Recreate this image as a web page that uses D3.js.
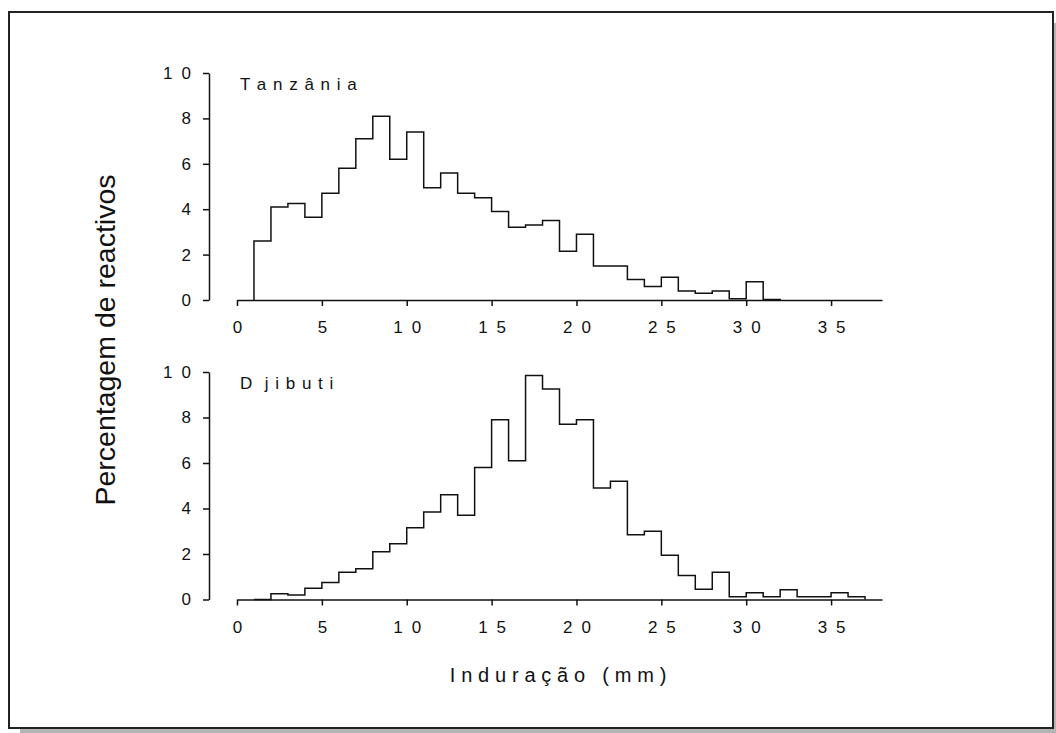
<!DOCTYPE html>
<html>
<head>
<meta charset="utf-8">
<script src="https://cdn.jsdelivr.net/npm/d3@7"></script>
<style>
  body { margin: 0; background: #fff; }
  text { font-family: "Liberation Sans", Arial, sans-serif; fill: #111; }
</style>
</head>
<body>
<div id="chart"></div>
<script>
// histogram bins are 1 mm wide, these are the left edges
var tanzaniaBins = [1,2,3,4,5,6,7,8,9,10,11,12,13,14,15,16,17,18,19,20,21,22,23,24,25,26,27,28,29,30,31];
var tanzaniaPct  = [2.6,4.1,4.25,3.65,4.7,5.8,7.1,8.1,6.2,7.4,4.95,5.6,4.7,4.5,3.9,3.2,3.3,3.5,2.15,2.9,1.5,1.5,0.9,0.6,1.0,0.4,0.3,0.4,0.05,0.8,0.02];

var djiboutiBins = [1,2,3,4,5,6,7,8,9,10,11,12,13,14,15,16,17,18,19,20,21,22,23,24,25,26,27,28,29,30,31,32,33,34,35,36];
var djiboutiPct  = [0,0.25,0.2,0.5,0.75,1.2,1.35,2.1,2.45,3.15,3.85,4.6,3.7,5.8,7.9,6.1,9.85,9.25,7.7,7.9,4.9,5.2,2.85,3.0,1.95,1.05,0.45,1.2,0.12,0.3,0.12,0.43,0.12,0.12,0.3,0.12];

var panelNames = ["T a n z â n i a", "D  j i b u t i"];
var xTicks = [0,5,10,15,20,25,30,35];
var yTicks = [0,2,4,6,8,10];

var width = 1056, height = 733;

var svg = d3.select("#chart")
	.append("svg")
	.attr("width", width)
	.attr("height", height);

// frame + drop shadow
svg.append("rect")
	.attr("x", 20).attr("y", 23)
	.attr("width", 1044).attr("height", 716)
	.attr("fill", "#b4b4b4");
svg.append("rect")
	.attr("x", 9).attr("y", 12)
	.attr("width", 1044).attr("height", 716)
	.attr("fill", "#fff")
	.attr("stroke", "#222")
	.style("stroke-width", "2px");

var x = d3.scaleLinear().domain([0, 38]).range([237, 882]);

var panels = [
	{ top: 73,  bottom: 300,   bins: tanzaniaBins, pct: tanzaniaPct, name: panelNames[0] },
	{ top: 372, bottom: 599.5, bins: djiboutiBins, pct: djiboutiPct, name: panelNames[1] }
];

var tickLS = 9;

panels.forEach(function(p) {
	var y = d3.scaleLinear().domain([0, 10]).range([p.bottom, p.top]);

	// x axis
	var gx = svg.append("g")
		.attr("transform", "translate(0," + p.bottom + ")")
		.call(d3.axisBottom(x).tickValues(xTicks).tickSize(6).tickSizeOuter(0));

	// y axis
	var gy = svg.append("g")
		.attr("transform", "translate(209,0)")
		.call(d3.axisLeft(y).tickValues(yTicks).tickSize(6).tickSizeOuter(0));

	[gx, gy].forEach(function(g) {
		g.attr("font-family", null).attr("font-size", null);
		g.selectAll("path, line").attr("stroke", "#111").style("stroke-width", "1.5px");
		g.selectAll("text")
			.style("font-size", "17px")
			.style("letter-spacing", tickLS + "px");
	});
	gx.selectAll("text").attr("y", 21).attr("dx", tickLS / 2);

	// step outline: start on the baseline, climb, and drop back after last bin
	var pts = [{ x: p.bins[0], y: 0 }];
	p.bins.forEach(function(b, i) { pts.push({ x: b, y: p.pct[i] }); });
	pts.push({ x: p.bins[p.bins.length - 1] + 1, y: 0 });

	var line = d3.line()
		.x(function(d) { return x(d.x); })
		.y(function(d) { return y(d.y); })
		.curve(d3.curveStepAfter);

	svg.append("path")
		.datum(pts)
		.attr("d", line)
		.attr("fill", "none")
		.attr("stroke", "#111")
		.style("stroke-width", "1.5px");

	// country label
	svg.append("text")
		.attr("x", 240)
		.attr("y", p.top + 17)
		.style("font-size", "17px")
		.style("letter-spacing", "1px")
		.style("white-space", "pre")
		.text(p.name);
});

// axis titles
svg.append("text")
	.attr("transform", "translate(115,340) rotate(-90)")
	.attr("text-anchor", "middle")
	.style("font-size", "28.5px")
	.text("Percentagem de reactivos");

svg.append("text")
	.attr("x", 558)
	.attr("y", 682)
	.attr("text-anchor", "middle")
	.attr("dx", 3)
	.style("font-size", "20px")
	.style("letter-spacing", "5.8px")
	.text("Induração (mm)");
</script>
</body>
</html>
